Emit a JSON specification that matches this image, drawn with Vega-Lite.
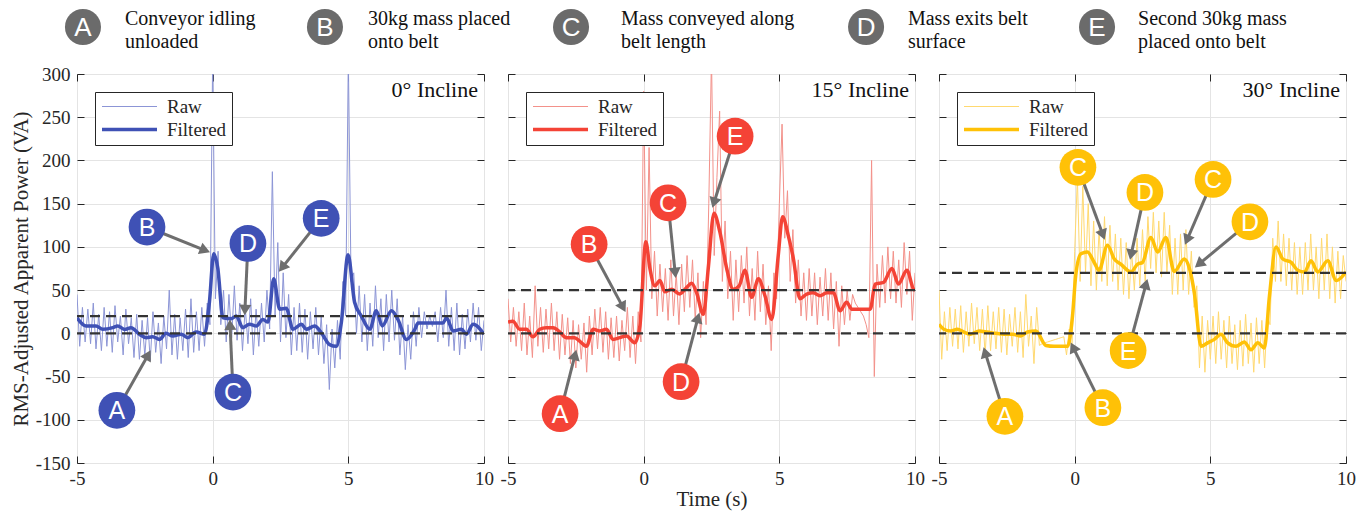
{
"$schema": "https://vega.github.io/schema/vega-lite/v6.json",
"background": "white",
"padding": {"left": 9, "top": 4, "right": 5, "bottom": 3},
"config": {
  "font": "Liberation Serif",
  "view": {"stroke": "#262626", "strokeWidth": 1},
  "axis": {"domain": false, "tickSize": -7, "tickColor": "#262626", "tickWidth": 1, "gridColor": "#e4e4e4", "gridWidth": 1, "labelFont": "Liberation Serif", "labelFontSize": 19, "labelColor": "#262626", "titleFont": "Liberation Serif", "titleFontWeight": "normal", "titleColor": "#262626", "labelFlush": false, "labelOverlap": false},
  "axisX": {"labelPadding": 13, "titleFontSize": 21, "titlePadding": 0},
  "axisY": {"labelPadding": 14, "titleFontSize": 21, "titlePadding": 4}
},
"datasets": {
"refs": [{"p":1,"y":0},{"p":1,"y":20},{"p":2,"y":0},{"p":2,"y":50},{"p":3,"y":0},{"p":3,"y":70}],
"hdr": [
 {"k":"A","cx":0.47,"tx":3.78,"txt":"Conveyor idling\nunloaded"},
 {"k":"B","cx":19.54,"tx":22.93,"txt":"30kg mass placed\nonto belt"},
 {"k":"C","cx":38.93,"tx":42.87,"txt":"Mass conveyed along\nbelt length"},
 {"k":"D","cx":62.18,"tx":65.48,"txt":"Mass exits belt\nsurface"},
 {"k":"E","cx":80.38,"tx":83.61,"txt":"Second 30kg mass\nplaced onto belt"}],
"ann": [
 {"p":1,"k":"A","cx":-3.53,"cy":-89,"tx":-2.38,"ty":-25,"a":29},
 {"p":1,"k":"B","cx":-2.42,"cy":123,"tx":-0.28,"ty":96,"a":112},
 {"p":1,"k":"D","cx":1.3,"cy":104,"tx":1.19,"ty":27,"a":183},
 {"p":1,"k":"E","cx":4.0,"cy":133,"tx":2.56,"ty":76,"a":218},
 {"p":1,"k":"C","cx":0.75,"cy":-68,"tx":0.64,"ty":10,"a":-3},
 {"p":2,"k":"A","cx":-3.08,"cy":-93,"tx":-2.53,"ty":-25,"a":14},
 {"p":2,"k":"B","cx":-2.01,"cy":103,"tx":-0.76,"ty":30,"a":152},
 {"p":2,"k":"C","cx":0.9,"cy":151,"tx":1.16,"ty":70,"a":174},
 {"p":2,"k":"E","cx":3.37,"cy":228,"tx":2.59,"ty":151,"a":197},
 {"p":2,"k":"D","cx":1.38,"cy":-56,"tx":2.0,"ty":18,"a":15},
 {"p":3,"k":"A","cx":-2.57,"cy":-96,"tx":-3.3,"ty":-22,"a":-17},
 {"p":3,"k":"B","cx":1.04,"cy":-86,"tx":-0.06,"ty":-16,"a":-26},
 {"p":3,"k":"C","cx":0.12,"cy":192,"tx":1.04,"ty":114,"a":160},
 {"p":3,"k":"D","cx":2.59,"cy":163,"tx":2.08,"ty":91,"a":192},
 {"p":3,"k":"C","cx":5.1,"cy":178,"tx":4.14,"ty":108,"a":203},
 {"p":3,"k":"D","cx":6.46,"cy":129,"tx":4.58,"ty":80,"a":230},
 {"p":3,"k":"E","cx":1.97,"cy":-20,"tx":2.63,"ty":57,"a":15}],
"f1": [
 {"s":"Filtered","t":-5,"v":18},{"s":"Filtered","t":-4.67,"v":8.5},{"s":"Filtered","t":-4.3,"v":8.5},{"s":"Filtered","t":-4.05,"v":4.7},{"s":"Filtered","t":-3.68,"v":6.6},{"s":"Filtered","t":-3.5,"v":8.5},{"s":"Filtered","t":-3.25,"v":4.5},{"s":"Filtered","t":-3.01,"v":6.6},{"s":"Filtered","t":-2.7,"v":-1},{"s":"Filtered","t":-2.45,"v":-5},{"s":"Filtered","t":-2.21,"v":-4},{"s":"Filtered","t":-1.96,"v":-7},{"s":"Filtered","t":-1.72,"v":0},{"s":"Filtered","t":-1.47,"v":-3},{"s":"Filtered","t":-1.16,"v":-1},{"s":"Filtered","t":-0.92,"v":-5},{"s":"Filtered","t":-0.61,"v":1.5},{"s":"Filtered","t":-0.3,"v":-1},{"s":"Filtered","t":-0.12,"v":36},{"s":"Filtered","t":0.04,"v":92},{"s":"Filtered","t":0.19,"v":75},{"s":"Filtered","t":0.38,"v":18},{"s":"Filtered","t":0.68,"v":17},{"s":"Filtered","t":0.87,"v":20},{"s":"Filtered","t":1.11,"v":6.6},{"s":"Filtered","t":1.36,"v":10.5},{"s":"Filtered","t":1.61,"v":8.5},{"s":"Filtered","t":1.85,"v":16},{"s":"Filtered","t":2.04,"v":13},{"s":"Filtered","t":2.25,"v":63},{"s":"Filtered","t":2.47,"v":28},{"s":"Filtered","t":2.71,"v":29},{"s":"Filtered","t":2.96,"v":4.7},{"s":"Filtered","t":3.27,"v":10.5},{"s":"Filtered","t":3.45,"v":4.7},{"s":"Filtered","t":3.76,"v":8.5},{"s":"Filtered","t":4.0,"v":0.8},{"s":"Filtered","t":4.31,"v":-13},{"s":"Filtered","t":4.56,"v":-15},{"s":"Filtered","t":4.74,"v":12},{"s":"Filtered","t":4.99,"v":91},{"s":"Filtered","t":5.23,"v":36},{"s":"Filtered","t":5.48,"v":20},{"s":"Filtered","t":5.79,"v":4.7},{"s":"Filtered","t":6.03,"v":26},{"s":"Filtered","t":6.25,"v":8.5},{"s":"Filtered","t":6.59,"v":26},{"s":"Filtered","t":6.83,"v":16},{"s":"Filtered","t":7.14,"v":-7},{"s":"Filtered","t":7.45,"v":4.7},{"s":"Filtered","t":7.57,"v":12},{"s":"Filtered","t":8.49,"v":12},{"s":"Filtered","t":8.62,"v":18},{"s":"Filtered","t":8.86,"v":2.7},{"s":"Filtered","t":9.17,"v":4.7},{"s":"Filtered","t":9.35,"v":-1},{"s":"Filtered","t":9.6,"v":10.5},{"s":"Filtered","t":10,"v":-1}],
"f2": [
 {"s":"Filtered","t":-5,"v":13},{"s":"Filtered","t":-4.82,"v":14},{"s":"Filtered","t":-4.57,"v":4.7},{"s":"Filtered","t":-4.32,"v":4.7},{"s":"Filtered","t":-4.08,"v":-4},{"s":"Filtered","t":-3.83,"v":4.7},{"s":"Filtered","t":-3.59,"v":6.6},{"s":"Filtered","t":-3.34,"v":6.6},{"s":"Filtered","t":-3.09,"v":1.5},{"s":"Filtered","t":-2.85,"v":-5},{"s":"Filtered","t":-2.54,"v":-5},{"s":"Filtered","t":-2.36,"v":-9},{"s":"Filtered","t":-2.11,"v":-15},{"s":"Filtered","t":-1.86,"v":4.7},{"s":"Filtered","t":-1.62,"v":2.7},{"s":"Filtered","t":-1.37,"v":4.7},{"s":"Filtered","t":-1.13,"v":-7},{"s":"Filtered","t":-0.88,"v":-5},{"s":"Filtered","t":-0.63,"v":-3},{"s":"Filtered","t":-0.33,"v":-11},{"s":"Filtered","t":-0.14,"v":8.5},{"s":"Filtered","t":0.08,"v":106},{"s":"Filtered","t":0.23,"v":75},{"s":"Filtered","t":0.41,"v":55},{"s":"Filtered","t":0.6,"v":61},{"s":"Filtered","t":0.78,"v":48},{"s":"Filtered","t":1.03,"v":51},{"s":"Filtered","t":1.33,"v":45.5},{"s":"Filtered","t":1.58,"v":53},{"s":"Filtered","t":1.77,"v":58},{"s":"Filtered","t":1.95,"v":47},{"s":"Filtered","t":2.2,"v":22},{"s":"Filtered","t":2.38,"v":75},{"s":"Filtered","t":2.59,"v":139},{"s":"Filtered","t":2.81,"v":117},{"s":"Filtered","t":3.06,"v":75},{"s":"Filtered","t":3.3,"v":51},{"s":"Filtered","t":3.52,"v":55},{"s":"Filtered","t":3.73,"v":73},{"s":"Filtered","t":3.98,"v":41.6},{"s":"Filtered","t":4.23,"v":63},{"s":"Filtered","t":4.47,"v":43.5},{"s":"Filtered","t":4.72,"v":16},{"s":"Filtered","t":4.96,"v":90},{"s":"Filtered","t":5.12,"v":135},{"s":"Filtered","t":5.33,"v":113},{"s":"Filtered","t":5.52,"v":86},{"s":"Filtered","t":5.76,"v":40},{"s":"Filtered","t":6.01,"v":45.5},{"s":"Filtered","t":6.25,"v":47},{"s":"Filtered","t":6.5,"v":43.5},{"s":"Filtered","t":6.75,"v":47},{"s":"Filtered","t":6.99,"v":47},{"s":"Filtered","t":7.24,"v":26},{"s":"Filtered","t":7.48,"v":36},{"s":"Filtered","t":7.67,"v":28},{"s":"Filtered","t":8.35,"v":28},{"s":"Filtered","t":8.53,"v":57},{"s":"Filtered","t":8.84,"v":59},{"s":"Filtered","t":9.15,"v":75},{"s":"Filtered","t":9.39,"v":57},{"s":"Filtered","t":9.7,"v":73},{"s":"Filtered","t":9.95,"v":51},{"s":"Filtered","t":10,"v":50}],
"f3": [
 {"s":"Filtered","t":-5,"v":10.5},{"s":"Filtered","t":-4.82,"v":4.7},{"s":"Filtered","t":-4.57,"v":2.7},{"s":"Filtered","t":-4.32,"v":4.7},{"s":"Filtered","t":-4.08,"v":1.5},{"s":"Filtered","t":-3.83,"v":-1},{"s":"Filtered","t":-3.52,"v":2.7},{"s":"Filtered","t":-3.22,"v":1.5},{"s":"Filtered","t":-2.91,"v":0},{"s":"Filtered","t":-2.6,"v":-1},{"s":"Filtered","t":-2.29,"v":-1},{"s":"Filtered","t":-1.99,"v":-3},{"s":"Filtered","t":-1.74,"v":1.5},{"s":"Filtered","t":-1.43,"v":2.7},{"s":"Filtered","t":-1.06,"v":-14},{"s":"Filtered","t":-0.76,"v":-15},{"s":"Filtered","t":-0.26,"v":-15},{"s":"Filtered","t":-0.08,"v":20},{"s":"Filtered","t":0.04,"v":67},{"s":"Filtered","t":0.23,"v":92},{"s":"Filtered","t":0.47,"v":94},{"s":"Filtered","t":0.72,"v":82},{"s":"Filtered","t":0.9,"v":73},{"s":"Filtered","t":1.21,"v":102},{"s":"Filtered","t":1.46,"v":86},{"s":"Filtered","t":1.7,"v":80},{"s":"Filtered","t":2.07,"v":71},{"s":"Filtered","t":2.32,"v":80},{"s":"Filtered","t":2.5,"v":82},{"s":"Filtered","t":2.81,"v":111},{"s":"Filtered","t":3.06,"v":94},{"s":"Filtered","t":3.36,"v":111},{"s":"Filtered","t":3.67,"v":71.5},{"s":"Filtered","t":4.04,"v":86},{"s":"Filtered","t":4.23,"v":75},{"s":"Filtered","t":4.41,"v":47},{"s":"Filtered","t":4.66,"v":-15},{"s":"Filtered","t":4.9,"v":-11},{"s":"Filtered","t":5.15,"v":-7},{"s":"Filtered","t":5.39,"v":-1},{"s":"Filtered","t":5.64,"v":-11},{"s":"Filtered","t":5.95,"v":-15},{"s":"Filtered","t":6.25,"v":-10},{"s":"Filtered","t":6.5,"v":-19},{"s":"Filtered","t":6.75,"v":-11},{"s":"Filtered","t":6.99,"v":-17},{"s":"Filtered","t":7.18,"v":43.5},{"s":"Filtered","t":7.42,"v":100},{"s":"Filtered","t":7.67,"v":86},{"s":"Filtered","t":7.98,"v":82},{"s":"Filtered","t":8.22,"v":73},{"s":"Filtered","t":8.47,"v":71},{"s":"Filtered","t":8.71,"v":84},{"s":"Filtered","t":8.96,"v":71},{"s":"Filtered","t":9.33,"v":84},{"s":"Filtered","t":9.64,"v":61},{"s":"Filtered","t":10,"v":71}],
"r1": [
 {"s":"Raw","t":-5.0,"v":45},{"s":"Raw","t":-4.9,"v":-15},{"s":"Raw","t":-4.8,"v":30},{"s":"Raw","t":-4.7,"v":-10},{"s":"Raw","t":-4.6,"v":28},{"s":"Raw","t":-4.5,"v":-12},{"s":"Raw","t":-4.4,"v":35},{"s":"Raw","t":-4.3,"v":-18},{"s":"Raw","t":-4.2,"v":22},{"s":"Raw","t":-4.1,"v":-20},
 {"s":"Raw","t":-4.0,"v":30},{"s":"Raw","t":-3.9,"v":-15},{"s":"Raw","t":-3.8,"v":25},{"s":"Raw","t":-3.7,"v":-22},{"s":"Raw","t":-3.6,"v":32},{"s":"Raw","t":-3.5,"v":-10},{"s":"Raw","t":-3.4,"v":20},{"s":"Raw","t":-3.3,"v":-25},{"s":"Raw","t":-3.2,"v":28},{"s":"Raw","t":-3.1,"v":-12},
 {"s":"Raw","t":-3.0,"v":18},{"s":"Raw","t":-2.9,"v":-28},{"s":"Raw","t":-2.8,"v":22},{"s":"Raw","t":-2.7,"v":-30},{"s":"Raw","t":-2.6,"v":15},{"s":"Raw","t":-2.5,"v":-26},{"s":"Raw","t":-2.4,"v":18},{"s":"Raw","t":-2.3,"v":-32},{"s":"Raw","t":-2.2,"v":25},{"s":"Raw","t":-2.1,"v":-22},
 {"s":"Raw","t":-2.0,"v":12},{"s":"Raw","t":-1.9,"v":-35},{"s":"Raw","t":-1.8,"v":20},{"s":"Raw","t":-1.7,"v":-18},{"s":"Raw","t":-1.6,"v":50},{"s":"Raw","t":-1.5,"v":-25},{"s":"Raw","t":-1.4,"v":22},{"s":"Raw","t":-1.3,"v":-30},{"s":"Raw","t":-1.2,"v":18},{"s":"Raw","t":-1.1,"v":-20},
 {"s":"Raw","t":-1.0,"v":28},{"s":"Raw","t":-0.9,"v":-28},{"s":"Raw","t":-0.8,"v":40},{"s":"Raw","t":-0.7,"v":-22},{"s":"Raw","t":-0.6,"v":25},{"s":"Raw","t":-0.5,"v":-20},{"s":"Raw","t":-0.4,"v":30},{"s":"Raw","t":-0.3,"v":-15},{"s":"Raw","t":-0.2,"v":35},{"s":"Raw","t":-0.1,"v":10},
 {"s":"Raw","t":0.0,"v":320},{"s":"Raw","t":0.1,"v":40},{"s":"Raw","t":0.2,"v":95},{"s":"Raw","t":0.3,"v":10},{"s":"Raw","t":0.4,"v":50},{"s":"Raw","t":0.5,"v":-10},{"s":"Raw","t":0.6,"v":45},{"s":"Raw","t":0.7,"v":-5},{"s":"Raw","t":0.8,"v":55},{"s":"Raw","t":0.9,"v":-8},
 {"s":"Raw","t":1.0,"v":35},{"s":"Raw","t":1.1,"v":-20},{"s":"Raw","t":1.2,"v":30},{"s":"Raw","t":1.3,"v":-12},{"s":"Raw","t":1.4,"v":40},{"s":"Raw","t":1.5,"v":-25},{"s":"Raw","t":1.6,"v":28},{"s":"Raw","t":1.7,"v":-15},{"s":"Raw","t":1.8,"v":35},{"s":"Raw","t":1.9,"v":-10},
 {"s":"Raw","t":2.0,"v":50},{"s":"Raw","t":2.1,"v":5},{"s":"Raw","t":2.2,"v":187},{"s":"Raw","t":2.3,"v":20},{"s":"Raw","t":2.4,"v":105},{"s":"Raw","t":2.5,"v":-10},{"s":"Raw","t":2.6,"v":70},{"s":"Raw","t":2.7,"v":-5},{"s":"Raw","t":2.8,"v":45},{"s":"Raw","t":2.9,"v":-25},
 {"s":"Raw","t":3.0,"v":30},{"s":"Raw","t":3.1,"v":-20},{"s":"Raw","t":3.2,"v":35},{"s":"Raw","t":3.3,"v":-22},{"s":"Raw","t":3.4,"v":28},{"s":"Raw","t":3.5,"v":-30},{"s":"Raw","t":3.6,"v":25},{"s":"Raw","t":3.7,"v":-18},{"s":"Raw","t":3.8,"v":30},{"s":"Raw","t":3.9,"v":-25},
 {"s":"Raw","t":4.0,"v":20},{"s":"Raw","t":4.1,"v":-35},{"s":"Raw","t":4.2,"v":10},{"s":"Raw","t":4.3,"v":-65},{"s":"Raw","t":4.4,"v":5},{"s":"Raw","t":4.5,"v":-40},{"s":"Raw","t":4.6,"v":15},{"s":"Raw","t":4.7,"v":-30},{"s":"Raw","t":4.8,"v":60},{"s":"Raw","t":4.9,"v":20},
 {"s":"Raw","t":5.0,"v":320},{"s":"Raw","t":5.1,"v":60},{"s":"Raw","t":5.2,"v":70},{"s":"Raw","t":5.3,"v":0},{"s":"Raw","t":5.4,"v":55},{"s":"Raw","t":5.5,"v":-10},{"s":"Raw","t":5.6,"v":45},{"s":"Raw","t":5.7,"v":-20},{"s":"Raw","t":5.8,"v":35},{"s":"Raw","t":5.9,"v":-15},
 {"s":"Raw","t":6.0,"v":55},{"s":"Raw","t":6.1,"v":-5},{"s":"Raw","t":6.2,"v":40},{"s":"Raw","t":6.3,"v":-20},{"s":"Raw","t":6.4,"v":45},{"s":"Raw","t":6.5,"v":-10},{"s":"Raw","t":6.6,"v":50},{"s":"Raw","t":6.7,"v":-8},{"s":"Raw","t":6.8,"v":40},{"s":"Raw","t":6.9,"v":-25},
 {"s":"Raw","t":7.0,"v":20},{"s":"Raw","t":7.1,"v":-42},{"s":"Raw","t":7.2,"v":10},{"s":"Raw","t":7.3,"v":-30},{"s":"Raw","t":7.4,"v":25},{"s":"Raw","t":7.5,"v":-15},{"s":"Raw","t":7.6,"v":30},{"s":"Raw","t":7.7,"v":-5},{"s":"Raw","t":7.8,"v":25},{"s":"Raw","t":7.9,"v":5},
 {"s":"Raw","t":8.0,"v":20},{"s":"Raw","t":8.1,"v":8},{"s":"Raw","t":8.2,"v":25},{"s":"Raw","t":8.3,"v":-10},{"s":"Raw","t":8.4,"v":30},{"s":"Raw","t":8.5,"v":-5},{"s":"Raw","t":8.6,"v":50},{"s":"Raw","t":8.7,"v":-15},{"s":"Raw","t":8.8,"v":30},{"s":"Raw","t":8.9,"v":-20},
 {"s":"Raw","t":9.0,"v":35},{"s":"Raw","t":9.1,"v":-25},{"s":"Raw","t":9.2,"v":22},{"s":"Raw","t":9.3,"v":-18},{"s":"Raw","t":9.4,"v":28},{"s":"Raw","t":9.5,"v":-10},{"s":"Raw","t":9.6,"v":35},{"s":"Raw","t":9.7,"v":-8},{"s":"Raw","t":9.8,"v":30},{"s":"Raw","t":9.9,"v":-20},{"s":"Raw","t":10.0,"v":15}],
"r2": [
 {"s":"Raw","t":-5.0,"v":40},{"s":"Raw","t":-4.9,"v":-10},{"s":"Raw","t":-4.8,"v":30},{"s":"Raw","t":-4.7,"v":-15},{"s":"Raw","t":-4.6,"v":25},{"s":"Raw","t":-4.5,"v":-20},{"s":"Raw","t":-4.4,"v":35},{"s":"Raw","t":-4.3,"v":-25},{"s":"Raw","t":-4.2,"v":20},{"s":"Raw","t":-4.1,"v":-28},
 {"s":"Raw","t":-4.0,"v":55},{"s":"Raw","t":-3.9,"v":-15},{"s":"Raw","t":-3.8,"v":30},{"s":"Raw","t":-3.7,"v":-22},{"s":"Raw","t":-3.6,"v":28},{"s":"Raw","t":-3.5,"v":-18},{"s":"Raw","t":-3.4,"v":35},{"s":"Raw","t":-3.3,"v":-20},{"s":"Raw","t":-3.2,"v":25},{"s":"Raw","t":-3.1,"v":-30},
 {"s":"Raw","t":-3.0,"v":22},{"s":"Raw","t":-2.9,"v":-25},{"s":"Raw","t":-2.8,"v":18},{"s":"Raw","t":-2.7,"v":-35},{"s":"Raw","t":-2.6,"v":15},{"s":"Raw","t":-2.5,"v":-40},{"s":"Raw","t":-2.4,"v":10},{"s":"Raw","t":-2.3,"v":-30},{"s":"Raw","t":-2.2,"v":12},{"s":"Raw","t":-2.1,"v":-45},
 {"s":"Raw","t":-2.0,"v":20},{"s":"Raw","t":-1.9,"v":-25},{"s":"Raw","t":-1.8,"v":28},{"s":"Raw","t":-1.7,"v":-18},{"s":"Raw","t":-1.6,"v":30},{"s":"Raw","t":-1.5,"v":-22},{"s":"Raw","t":-1.4,"v":25},{"s":"Raw","t":-1.3,"v":-30},{"s":"Raw","t":-1.2,"v":18},{"s":"Raw","t":-1.1,"v":-28},
 {"s":"Raw","t":-1.0,"v":20},{"s":"Raw","t":-0.9,"v":-32},{"s":"Raw","t":-0.8,"v":15},{"s":"Raw","t":-0.7,"v":-20},{"s":"Raw","t":-0.6,"v":30},{"s":"Raw","t":-0.5,"v":-28},{"s":"Raw","t":-0.4,"v":20},{"s":"Raw","t":-0.3,"v":-35},{"s":"Raw","t":-0.2,"v":25},{"s":"Raw","t":-0.1,"v":-10},
 {"s":"Raw","t":0.0,"v":280},{"s":"Raw","t":0.1,"v":50},{"s":"Raw","t":0.2,"v":215},{"s":"Raw","t":0.3,"v":40},{"s":"Raw","t":0.4,"v":95},{"s":"Raw","t":0.5,"v":20},{"s":"Raw","t":0.6,"v":80},{"s":"Raw","t":0.7,"v":25},{"s":"Raw","t":0.8,"v":75},{"s":"Raw","t":0.9,"v":15},
 {"s":"Raw","t":1.0,"v":85},{"s":"Raw","t":1.1,"v":20},{"s":"Raw","t":1.2,"v":70},{"s":"Raw","t":1.3,"v":10},{"s":"Raw","t":1.4,"v":80},{"s":"Raw","t":1.5,"v":25},{"s":"Raw","t":1.6,"v":90},{"s":"Raw","t":1.7,"v":30},{"s":"Raw","t":1.8,"v":85},{"s":"Raw","t":1.9,"v":15},
 {"s":"Raw","t":2.0,"v":70},{"s":"Raw","t":2.1,"v":-5},{"s":"Raw","t":2.2,"v":60},{"s":"Raw","t":2.3,"v":10},{"s":"Raw","t":2.4,"v":150},{"s":"Raw","t":2.5,"v":320},{"s":"Raw","t":2.6,"v":90},{"s":"Raw","t":2.7,"v":180},{"s":"Raw","t":2.8,"v":257},{"s":"Raw","t":2.9,"v":60},
 {"s":"Raw","t":3.0,"v":130},{"s":"Raw","t":3.1,"v":40},{"s":"Raw","t":3.2,"v":95},{"s":"Raw","t":3.3,"v":15},{"s":"Raw","t":3.4,"v":85},{"s":"Raw","t":3.5,"v":25},{"s":"Raw","t":3.6,"v":90},{"s":"Raw","t":3.7,"v":35},{"s":"Raw","t":3.8,"v":100},{"s":"Raw","t":3.9,"v":20},
 {"s":"Raw","t":4.0,"v":75},{"s":"Raw","t":4.1,"v":15},{"s":"Raw","t":4.2,"v":95},{"s":"Raw","t":4.3,"v":25},{"s":"Raw","t":4.4,"v":80},{"s":"Raw","t":4.5,"v":10},{"s":"Raw","t":4.6,"v":55},{"s":"Raw","t":4.7,"v":-20},{"s":"Raw","t":4.8,"v":70},{"s":"Raw","t":4.9,"v":40},
 {"s":"Raw","t":5.0,"v":150},{"s":"Raw","t":5.1,"v":242},{"s":"Raw","t":5.2,"v":110},{"s":"Raw","t":5.3,"v":165},{"s":"Raw","t":5.4,"v":60},{"s":"Raw","t":5.5,"v":120},{"s":"Raw","t":5.6,"v":35},{"s":"Raw","t":5.7,"v":85},{"s":"Raw","t":5.8,"v":20},{"s":"Raw","t":5.9,"v":70},
 {"s":"Raw","t":6.0,"v":15},{"s":"Raw","t":6.1,"v":75},{"s":"Raw","t":6.2,"v":20},{"s":"Raw","t":6.3,"v":70},{"s":"Raw","t":6.4,"v":10},{"s":"Raw","t":6.5,"v":65},{"s":"Raw","t":6.6,"v":20},{"s":"Raw","t":6.7,"v":75},{"s":"Raw","t":6.8,"v":15},{"s":"Raw","t":6.9,"v":70},
 {"s":"Raw","t":7.0,"v":5},{"s":"Raw","t":7.1,"v":60},{"s":"Raw","t":7.2,"v":-15},{"s":"Raw","t":7.3,"v":55},{"s":"Raw","t":7.4,"v":10},{"s":"Raw","t":7.5,"v":50},{"s":"Raw","t":7.6,"v":15},{"s":"Raw","t":7.7,"v":45},{"s":"Raw","t":7.8,"v":35},{"s":"Raw","t":7.9,"v":30},
 {"s":"Raw","t":8.0,"v":25},{"s":"Raw","t":8.1,"v":20},{"s":"Raw","t":8.2,"v":10},{"s":"Raw","t":8.3,"v":-5},{"s":"Raw","t":8.4,"v":200},{"s":"Raw","t":8.5,"v":-50},{"s":"Raw","t":8.6,"v":80},{"s":"Raw","t":8.7,"v":30},{"s":"Raw","t":8.8,"v":90},{"s":"Raw","t":8.9,"v":35},
 {"s":"Raw","t":9.0,"v":100},{"s":"Raw","t":9.1,"v":40},{"s":"Raw","t":9.2,"v":95},{"s":"Raw","t":9.3,"v":35},{"s":"Raw","t":9.4,"v":85},{"s":"Raw","t":9.5,"v":30},{"s":"Raw","t":9.6,"v":105},{"s":"Raw","t":9.7,"v":45},{"s":"Raw","t":9.8,"v":95},{"s":"Raw","t":9.9,"v":15},{"s":"Raw","t":10.0,"v":70}],
"r3": [
 {"s":"Raw","t":-5.0,"v":50},{"s":"Raw","t":-4.9,"v":-30},{"s":"Raw","t":-4.8,"v":25},{"s":"Raw","t":-4.7,"v":-20},{"s":"Raw","t":-4.6,"v":30},{"s":"Raw","t":-4.5,"v":-15},{"s":"Raw","t":-4.4,"v":28},{"s":"Raw","t":-4.3,"v":-18},{"s":"Raw","t":-4.2,"v":32},{"s":"Raw","t":-4.1,"v":-22},
 {"s":"Raw","t":-4.0,"v":25},{"s":"Raw","t":-3.9,"v":-15},{"s":"Raw","t":-3.8,"v":35},{"s":"Raw","t":-3.7,"v":-12},{"s":"Raw","t":-3.6,"v":30},{"s":"Raw","t":-3.5,"v":-20},{"s":"Raw","t":-3.4,"v":28},{"s":"Raw","t":-3.3,"v":-25},{"s":"Raw","t":-3.2,"v":32},{"s":"Raw","t":-3.1,"v":-20},
 {"s":"Raw","t":-3.0,"v":25},{"s":"Raw","t":-2.9,"v":-18},{"s":"Raw","t":-2.8,"v":30},{"s":"Raw","t":-2.7,"v":-22},{"s":"Raw","t":-2.6,"v":28},{"s":"Raw","t":-2.5,"v":-25},{"s":"Raw","t":-2.4,"v":22},{"s":"Raw","t":-2.3,"v":-15},{"s":"Raw","t":-2.2,"v":30},{"s":"Raw","t":-2.1,"v":-22},
 {"s":"Raw","t":-2.0,"v":25},{"s":"Raw","t":-1.9,"v":-28},{"s":"Raw","t":-1.8,"v":45},{"s":"Raw","t":-1.7,"v":-15},{"s":"Raw","t":-1.6,"v":20},{"s":"Raw","t":-1.5,"v":-35},{"s":"Raw","t":-1.4,"v":30},{"s":"Raw","t":-1.3,"v":-14},{"s":"Raw","t":-1.2,"v":-12},{"s":"Raw","t":-1.1,"v":-11},
 {"s":"Raw","t":-1.0,"v":-10},{"s":"Raw","t":-0.9,"v":-9},{"s":"Raw","t":-0.8,"v":-8},{"s":"Raw","t":-0.7,"v":-7},{"s":"Raw","t":-0.6,"v":-6},{"s":"Raw","t":-0.5,"v":-5},{"s":"Raw","t":-0.4,"v":-4},{"s":"Raw","t":-0.3,"v":-25},{"s":"Raw","t":-0.2,"v":5},{"s":"Raw","t":-0.1,"v":-20},
 {"s":"Raw","t":0.0,"v":95},{"s":"Raw","t":0.1,"v":180},{"s":"Raw","t":0.2,"v":60},{"s":"Raw","t":0.3,"v":170},{"s":"Raw","t":0.4,"v":70},{"s":"Raw","t":0.5,"v":150},{"s":"Raw","t":0.6,"v":55},{"s":"Raw","t":0.7,"v":130},{"s":"Raw","t":0.8,"v":50},{"s":"Raw","t":0.9,"v":120},
 {"s":"Raw","t":1.0,"v":60},{"s":"Raw","t":1.1,"v":135},{"s":"Raw","t":1.2,"v":55},{"s":"Raw","t":1.3,"v":125},{"s":"Raw","t":1.4,"v":60},{"s":"Raw","t":1.5,"v":115},{"s":"Raw","t":1.6,"v":50},{"s":"Raw","t":1.7,"v":110},{"s":"Raw","t":1.8,"v":45},{"s":"Raw","t":1.9,"v":105},
 {"s":"Raw","t":2.0,"v":40},{"s":"Raw","t":2.1,"v":95},{"s":"Raw","t":2.2,"v":50},{"s":"Raw","t":2.3,"v":110},{"s":"Raw","t":2.4,"v":55},{"s":"Raw","t":2.5,"v":120},{"s":"Raw","t":2.6,"v":60},{"s":"Raw","t":2.7,"v":135},{"s":"Raw","t":2.8,"v":75},{"s":"Raw","t":2.9,"v":140},
 {"s":"Raw","t":3.0,"v":70},{"s":"Raw","t":3.1,"v":130},{"s":"Raw","t":3.2,"v":65},{"s":"Raw","t":3.3,"v":140},{"s":"Raw","t":3.4,"v":70},{"s":"Raw","t":3.5,"v":125},{"s":"Raw","t":3.6,"v":45},{"s":"Raw","t":3.7,"v":110},{"s":"Raw","t":3.8,"v":45},{"s":"Raw","t":3.9,"v":115},
 {"s":"Raw","t":4.0,"v":50},{"s":"Raw","t":4.1,"v":120},{"s":"Raw","t":4.2,"v":45},{"s":"Raw","t":4.3,"v":95},{"s":"Raw","t":4.4,"v":30},{"s":"Raw","t":4.5,"v":55},{"s":"Raw","t":4.6,"v":-40},{"s":"Raw","t":4.7,"v":20},{"s":"Raw","t":4.8,"v":-45},{"s":"Raw","t":4.9,"v":15},
 {"s":"Raw","t":5.0,"v":-30},{"s":"Raw","t":5.1,"v":20},{"s":"Raw","t":5.2,"v":-35},{"s":"Raw","t":5.3,"v":25},{"s":"Raw","t":5.4,"v":-30},{"s":"Raw","t":5.5,"v":15},{"s":"Raw","t":5.6,"v":-40},{"s":"Raw","t":5.7,"v":20},{"s":"Raw","t":5.8,"v":-35},{"s":"Raw","t":5.9,"v":10},
 {"s":"Raw","t":6.0,"v":-42},{"s":"Raw","t":6.1,"v":15},{"s":"Raw","t":6.2,"v":-38},{"s":"Raw","t":6.3,"v":22},{"s":"Raw","t":6.4,"v":-35},{"s":"Raw","t":6.5,"v":12},{"s":"Raw","t":6.6,"v":-45},{"s":"Raw","t":6.7,"v":18},{"s":"Raw","t":6.8,"v":-35},{"s":"Raw","t":6.9,"v":15},
 {"s":"Raw","t":7.0,"v":-40},{"s":"Raw","t":7.1,"v":20},{"s":"Raw","t":7.2,"v":10},{"s":"Raw","t":7.3,"v":110},{"s":"Raw","t":7.4,"v":60},{"s":"Raw","t":7.5,"v":130},{"s":"Raw","t":7.6,"v":60},{"s":"Raw","t":7.7,"v":115},{"s":"Raw","t":7.8,"v":55},{"s":"Raw","t":7.9,"v":110},
 {"s":"Raw","t":8.0,"v":50},{"s":"Raw","t":8.1,"v":105},{"s":"Raw","t":8.2,"v":45},{"s":"Raw","t":8.3,"v":100},{"s":"Raw","t":8.4,"v":45},{"s":"Raw","t":8.5,"v":105},{"s":"Raw","t":8.6,"v":50},{"s":"Raw","t":8.7,"v":115},{"s":"Raw","t":8.8,"v":50},{"s":"Raw","t":8.9,"v":100},
 {"s":"Raw","t":9.0,"v":40},{"s":"Raw","t":9.1,"v":110},{"s":"Raw","t":9.2,"v":50},{"s":"Raw","t":9.3,"v":115},{"s":"Raw","t":9.4,"v":40},{"s":"Raw","t":9.5,"v":100},{"s":"Raw","t":9.6,"v":35},{"s":"Raw","t":9.7,"v":95},{"s":"Raw","t":9.8,"v":40},{"s":"Raw","t":9.9,"v":90},{"s":"Raw","t":10.0,"v":60}]
},
"spacing": 24,
"bounds": "flush",
"vconcat": [
 {
  "width": 1269, "height": 46,
  "view": {"stroke": null},
  "data": {"name": "hdr"},
  "layer": [
   {"mark": {"type": "point", "filled": true, "size": 1300, "color": "#6b6b6b", "opacity": 1},
    "encoding": {"x": {"field": "cx", "type": "quantitative", "scale": {"domain": [0, 100], "nice": false, "zero": false}, "axis": null},
                 "y": {"datum": 0.5, "type": "quantitative", "scale": {"domain": [0, 1], "nice": false}, "axis": null}}},
   {"mark": {"type": "text", "font": "Liberation Sans", "fontSize": 26, "color": "white", "baseline": "middle", "align": "center", "dy": 1},
    "encoding": {"x": {"field": "cx", "type": "quantitative"}, "y": {"datum": 0.5, "type": "quantitative"}, "text": {"field": "k"}}},
   {"mark": {"type": "text", "font": "Liberation Serif", "fontSize": 20, "color": "#111111", "align": "left", "baseline": "middle", "lineBreak": "\n", "lineHeight": 23},
    "encoding": {"x": {"field": "tx", "type": "quantitative"}, "y": {"datum": 0.68, "type": "quantitative"}, "text": {"field": "txt"}}}
  ]
 },
 {
  "hconcat": [
   {
    "width": 407, "height": 389,
    "layer": [
     {"data": {"name": "r1"}, "mark": {"type": "line", "clip": true},
      "encoding": {
       "x": {"field": "t", "type": "quantitative", "scale": {"domain": [-5, 10], "nice": false, "zero": false}, "axis": {"values": [-5, 0, 5, 10], "title": null, "grid": true, "labelExpr": "'' + datum.value"}},
       "y": {"field": "v", "type": "quantitative", "scale": {"domain": [-150, 300], "nice": false, "zero": false}, "axis": {"values": [-150, -100, -50, 0, 50, 100, 150, 200, 250, 300], "title": "RMS-Adjusted Apparent Power (VA)", "grid": true, "labelExpr": "'' + datum.value"}},
       "color": {"field": "s", "type": "nominal", "scale": {"domain": ["Raw", "Filtered"], "range": ["#8c95d6", "#3f51b5"]}, "legend": {"title": null, "orient": "top-left", "offset": 18, "padding": 5, "strokeColor": "#262626", "fillColor": "white", "symbolType": "M-5,0L5,0", "symbolSize": 121, "symbolOffset": 20, "labelOffset": 28, "rowPadding": 3, "labelFontSize": 19, "labelFont": "Liberation Serif", "labelColor": "#262626"}},
       "strokeWidth": {"field": "s", "type": "nominal", "scale": {"domain": ["Raw", "Filtered"], "range": [1, 3.5]}, "legend": {"title": null, "orient": "top-left", "offset": 18, "padding": 5, "strokeColor": "#262626", "fillColor": "white", "symbolType": "M-5,0L5,0", "symbolSize": 121, "symbolOffset": 20, "labelOffset": 28, "rowPadding": 3, "labelFontSize": 19, "labelFont": "Liberation Serif", "labelColor": "#262626"}}
      }},
     {"data": {"name": "f1"}, "mark": {"type": "line", "interpolate": "monotone", "clip": true},
      "encoding": {"x": {"field": "t", "type": "quantitative", "axis": null}, "y": {"field": "v", "type": "quantitative", "axis": null}, "color": {"field": "s", "type": "nominal"}, "strokeWidth": {"field": "s", "type": "nominal"}}},
     {"data": {"name": "refs"}, "transform": [{"filter": "datum.p == 1"}], "mark": {"type": "rule", "strokeDash": [10, 6], "strokeWidth": 2.2, "color": "#333333"},
      "encoding": {"y": {"field": "y", "type": "quantitative", "axis": null}}},
     {"data": {"name": "ann"}, "transform": [{"filter": "datum.p == 1"}], "mark": {"type": "rule", "strokeWidth": 3, "color": "#6e6e6e"},
      "encoding": {"x": {"field": "cx", "type": "quantitative", "axis": null}, "y": {"field": "cy", "type": "quantitative", "axis": null}, "x2": {"field": "tx"}, "y2": {"field": "ty"}}},
     {"data": {"name": "ann"}, "transform": [{"filter": "datum.p == 1"}], "mark": {"type": "point", "shape": "triangle-up", "filled": true, "size": 150, "color": "#6e6e6e", "opacity": 1},
      "encoding": {"x": {"field": "tx", "type": "quantitative", "axis": null}, "y": {"field": "ty", "type": "quantitative", "axis": null}, "angle": {"field": "a", "type": "quantitative", "scale": null}}},
     {"data": {"name": "ann"}, "transform": [{"filter": "datum.p == 1"}], "mark": {"type": "point", "filled": true, "size": 1350, "color": "#3f51b5", "opacity": 1},
      "encoding": {"x": {"field": "cx", "type": "quantitative", "axis": {"orient": "top", "labels": false, "grid": false, "title": null, "values": [-5, 0, 5, 10]}},
                   "y": {"field": "cy", "type": "quantitative", "axis": {"orient": "right", "labels": false, "grid": false, "title": null, "values": [-150, -100, -50, 0, 50, 100, 150, 200, 250, 300]}}}},
     {"data": {"name": "ann"}, "transform": [{"filter": "datum.p == 1"}], "mark": {"type": "text", "font": "Liberation Sans", "fontSize": 25, "color": "white", "baseline": "middle", "align": "center", "dy": 1},
      "encoding": {"x": {"field": "cx", "type": "quantitative", "axis": null}, "y": {"field": "cy", "type": "quantitative", "axis": null}, "text": {"field": "k"}}},
     {"data": {"values": [{}]}, "mark": {"type": "text", "align": "right", "baseline": "top", "dx": -6, "dy": 6, "fontSize": 22, "font": "Liberation Serif", "color": "#111111"},
      "encoding": {"x": {"datum": 10, "type": "quantitative", "axis": null}, "y": {"datum": 300, "type": "quantitative", "axis": null}, "text": {"value": "0° Incline"}}}
    ],
    "resolve": {"axis": {"x": "independent", "y": "independent"}}
   },
   {
    "width": 407, "height": 389,
    "layer": [
     {"data": {"name": "r2"}, "mark": {"type": "line", "clip": true},
      "encoding": {
       "x": {"field": "t", "type": "quantitative", "scale": {"domain": [-5, 10], "nice": false, "zero": false}, "axis": {"values": [-5, 0, 5, 10], "title": "Time (s)", "grid": true, "labelExpr": "'' + datum.value"}},
       "y": {"field": "v", "type": "quantitative", "scale": {"domain": [-150, 300], "nice": false, "zero": false}, "axis": {"values": [-150, -100, -50, 0, 50, 100, 150, 200, 250, 300], "title": null, "grid": true, "labels": false}},
       "color": {"field": "s", "type": "nominal", "scale": {"domain": ["Raw", "Filtered"], "range": ["#f3918a", "#f44336"]}, "legend": {"title": null, "orient": "top-left", "offset": 18, "padding": 5, "strokeColor": "#262626", "fillColor": "white", "symbolType": "M-5,0L5,0", "symbolSize": 121, "symbolOffset": 20, "labelOffset": 28, "rowPadding": 3, "labelFontSize": 19, "labelFont": "Liberation Serif", "labelColor": "#262626"}},
       "strokeWidth": {"field": "s", "type": "nominal", "scale": {"domain": ["Raw", "Filtered"], "range": [1, 3.5]}, "legend": {"title": null, "orient": "top-left", "offset": 18, "padding": 5, "strokeColor": "#262626", "fillColor": "white", "symbolType": "M-5,0L5,0", "symbolSize": 121, "symbolOffset": 20, "labelOffset": 28, "rowPadding": 3, "labelFontSize": 19, "labelFont": "Liberation Serif", "labelColor": "#262626"}}
      }},
     {"data": {"name": "f2"}, "mark": {"type": "line", "interpolate": "monotone", "clip": true},
      "encoding": {"x": {"field": "t", "type": "quantitative", "axis": null}, "y": {"field": "v", "type": "quantitative", "axis": null}, "color": {"field": "s", "type": "nominal"}, "strokeWidth": {"field": "s", "type": "nominal"}}},
     {"data": {"name": "refs"}, "transform": [{"filter": "datum.p == 2"}], "mark": {"type": "rule", "strokeDash": [10, 6], "strokeWidth": 2.2, "color": "#333333"},
      "encoding": {"y": {"field": "y", "type": "quantitative", "axis": null}}},
     {"data": {"name": "ann"}, "transform": [{"filter": "datum.p == 2"}], "mark": {"type": "rule", "strokeWidth": 3, "color": "#6e6e6e"},
      "encoding": {"x": {"field": "cx", "type": "quantitative", "axis": null}, "y": {"field": "cy", "type": "quantitative", "axis": null}, "x2": {"field": "tx"}, "y2": {"field": "ty"}}},
     {"data": {"name": "ann"}, "transform": [{"filter": "datum.p == 2"}], "mark": {"type": "point", "shape": "triangle-up", "filled": true, "size": 150, "color": "#6e6e6e", "opacity": 1},
      "encoding": {"x": {"field": "tx", "type": "quantitative", "axis": null}, "y": {"field": "ty", "type": "quantitative", "axis": null}, "angle": {"field": "a", "type": "quantitative", "scale": null}}},
     {"data": {"name": "ann"}, "transform": [{"filter": "datum.p == 2"}], "mark": {"type": "point", "filled": true, "size": 1350, "color": "#f44336", "opacity": 1},
      "encoding": {"x": {"field": "cx", "type": "quantitative", "axis": {"orient": "top", "labels": false, "grid": false, "title": null, "values": [-5, 0, 5, 10]}},
                   "y": {"field": "cy", "type": "quantitative", "axis": {"orient": "right", "labels": false, "grid": false, "title": null, "values": [-150, -100, -50, 0, 50, 100, 150, 200, 250, 300]}}}},
     {"data": {"name": "ann"}, "transform": [{"filter": "datum.p == 2"}], "mark": {"type": "text", "font": "Liberation Sans", "fontSize": 25, "color": "white", "baseline": "middle", "align": "center", "dy": 1},
      "encoding": {"x": {"field": "cx", "type": "quantitative", "axis": null}, "y": {"field": "cy", "type": "quantitative", "axis": null}, "text": {"field": "k"}}},
     {"data": {"values": [{}]}, "mark": {"type": "text", "align": "right", "baseline": "top", "dx": -6, "dy": 6, "fontSize": 22, "font": "Liberation Serif", "color": "#111111"},
      "encoding": {"x": {"datum": 10, "type": "quantitative", "axis": null}, "y": {"datum": 300, "type": "quantitative", "axis": null}, "text": {"value": "15° Incline"}}}
    ],
    "resolve": {"axis": {"x": "independent", "y": "independent"}}
   },
   {
    "width": 407, "height": 389,
    "layer": [
     {"data": {"name": "r3"}, "mark": {"type": "line", "clip": true},
      "encoding": {
       "x": {"field": "t", "type": "quantitative", "scale": {"domain": [-5, 10], "nice": false, "zero": false}, "axis": {"values": [-5, 0, 5, 10], "title": null, "grid": true, "labelExpr": "'' + datum.value"}},
       "y": {"field": "v", "type": "quantitative", "scale": {"domain": [-150, 300], "nice": false, "zero": false}, "axis": {"values": [-150, -100, -50, 0, 50, 100, 150, 200, 250, 300], "title": null, "grid": true, "labels": false}},
       "color": {"field": "s", "type": "nominal", "scale": {"domain": ["Raw", "Filtered"], "range": ["#ffd970", "#ffc107"]}, "legend": {"title": null, "orient": "top-left", "offset": 18, "padding": 5, "strokeColor": "#262626", "fillColor": "white", "symbolType": "M-5,0L5,0", "symbolSize": 121, "symbolOffset": 20, "labelOffset": 28, "rowPadding": 3, "labelFontSize": 19, "labelFont": "Liberation Serif", "labelColor": "#262626"}},
       "strokeWidth": {"field": "s", "type": "nominal", "scale": {"domain": ["Raw", "Filtered"], "range": [1, 3.5]}, "legend": {"title": null, "orient": "top-left", "offset": 18, "padding": 5, "strokeColor": "#262626", "fillColor": "white", "symbolType": "M-5,0L5,0", "symbolSize": 121, "symbolOffset": 20, "labelOffset": 28, "rowPadding": 3, "labelFontSize": 19, "labelFont": "Liberation Serif", "labelColor": "#262626"}}
      }},
     {"data": {"name": "f3"}, "mark": {"type": "line", "interpolate": "monotone", "clip": true},
      "encoding": {"x": {"field": "t", "type": "quantitative", "axis": null}, "y": {"field": "v", "type": "quantitative", "axis": null}, "color": {"field": "s", "type": "nominal"}, "strokeWidth": {"field": "s", "type": "nominal"}}},
     {"data": {"name": "refs"}, "transform": [{"filter": "datum.p == 3"}], "mark": {"type": "rule", "strokeDash": [10, 6], "strokeWidth": 2.2, "color": "#333333"},
      "encoding": {"y": {"field": "y", "type": "quantitative", "axis": null}}},
     {"data": {"name": "ann"}, "transform": [{"filter": "datum.p == 3"}], "mark": {"type": "rule", "strokeWidth": 3, "color": "#6e6e6e"},
      "encoding": {"x": {"field": "cx", "type": "quantitative", "axis": null}, "y": {"field": "cy", "type": "quantitative", "axis": null}, "x2": {"field": "tx"}, "y2": {"field": "ty"}}},
     {"data": {"name": "ann"}, "transform": [{"filter": "datum.p == 3"}], "mark": {"type": "point", "shape": "triangle-up", "filled": true, "size": 150, "color": "#6e6e6e", "opacity": 1},
      "encoding": {"x": {"field": "tx", "type": "quantitative", "axis": null}, "y": {"field": "ty", "type": "quantitative", "axis": null}, "angle": {"field": "a", "type": "quantitative", "scale": null}}},
     {"data": {"name": "ann"}, "transform": [{"filter": "datum.p == 3"}], "mark": {"type": "point", "filled": true, "size": 1350, "color": "#ffc107", "opacity": 1},
      "encoding": {"x": {"field": "cx", "type": "quantitative", "axis": {"orient": "top", "labels": false, "grid": false, "title": null, "values": [-5, 0, 5, 10]}},
                   "y": {"field": "cy", "type": "quantitative", "axis": {"orient": "right", "labels": false, "grid": false, "title": null, "values": [-150, -100, -50, 0, 50, 100, 150, 200, 250, 300]}}}},
     {"data": {"name": "ann"}, "transform": [{"filter": "datum.p == 3"}], "mark": {"type": "text", "font": "Liberation Sans", "fontSize": 25, "color": "white", "baseline": "middle", "align": "center", "dy": 1},
      "encoding": {"x": {"field": "cx", "type": "quantitative", "axis": null}, "y": {"field": "cy", "type": "quantitative", "axis": null}, "text": {"field": "k"}}},
     {"data": {"values": [{}]}, "mark": {"type": "text", "align": "right", "baseline": "top", "dx": -6, "dy": 6, "fontSize": 22, "font": "Liberation Serif", "color": "#111111"},
      "encoding": {"x": {"datum": 10, "type": "quantitative", "axis": null}, "y": {"datum": 300, "type": "quantitative", "axis": null}, "text": {"value": "30° Incline"}}}
    ],
    "resolve": {"axis": {"x": "independent", "y": "independent"}}
   }
  ],
  "spacing": 24,
  "bounds": "flush",
  "resolve": {"scale": {"color": "independent", "strokeWidth": "independent"}, "legend": {"color": "independent", "strokeWidth": "independent"}}
 }
]
}
